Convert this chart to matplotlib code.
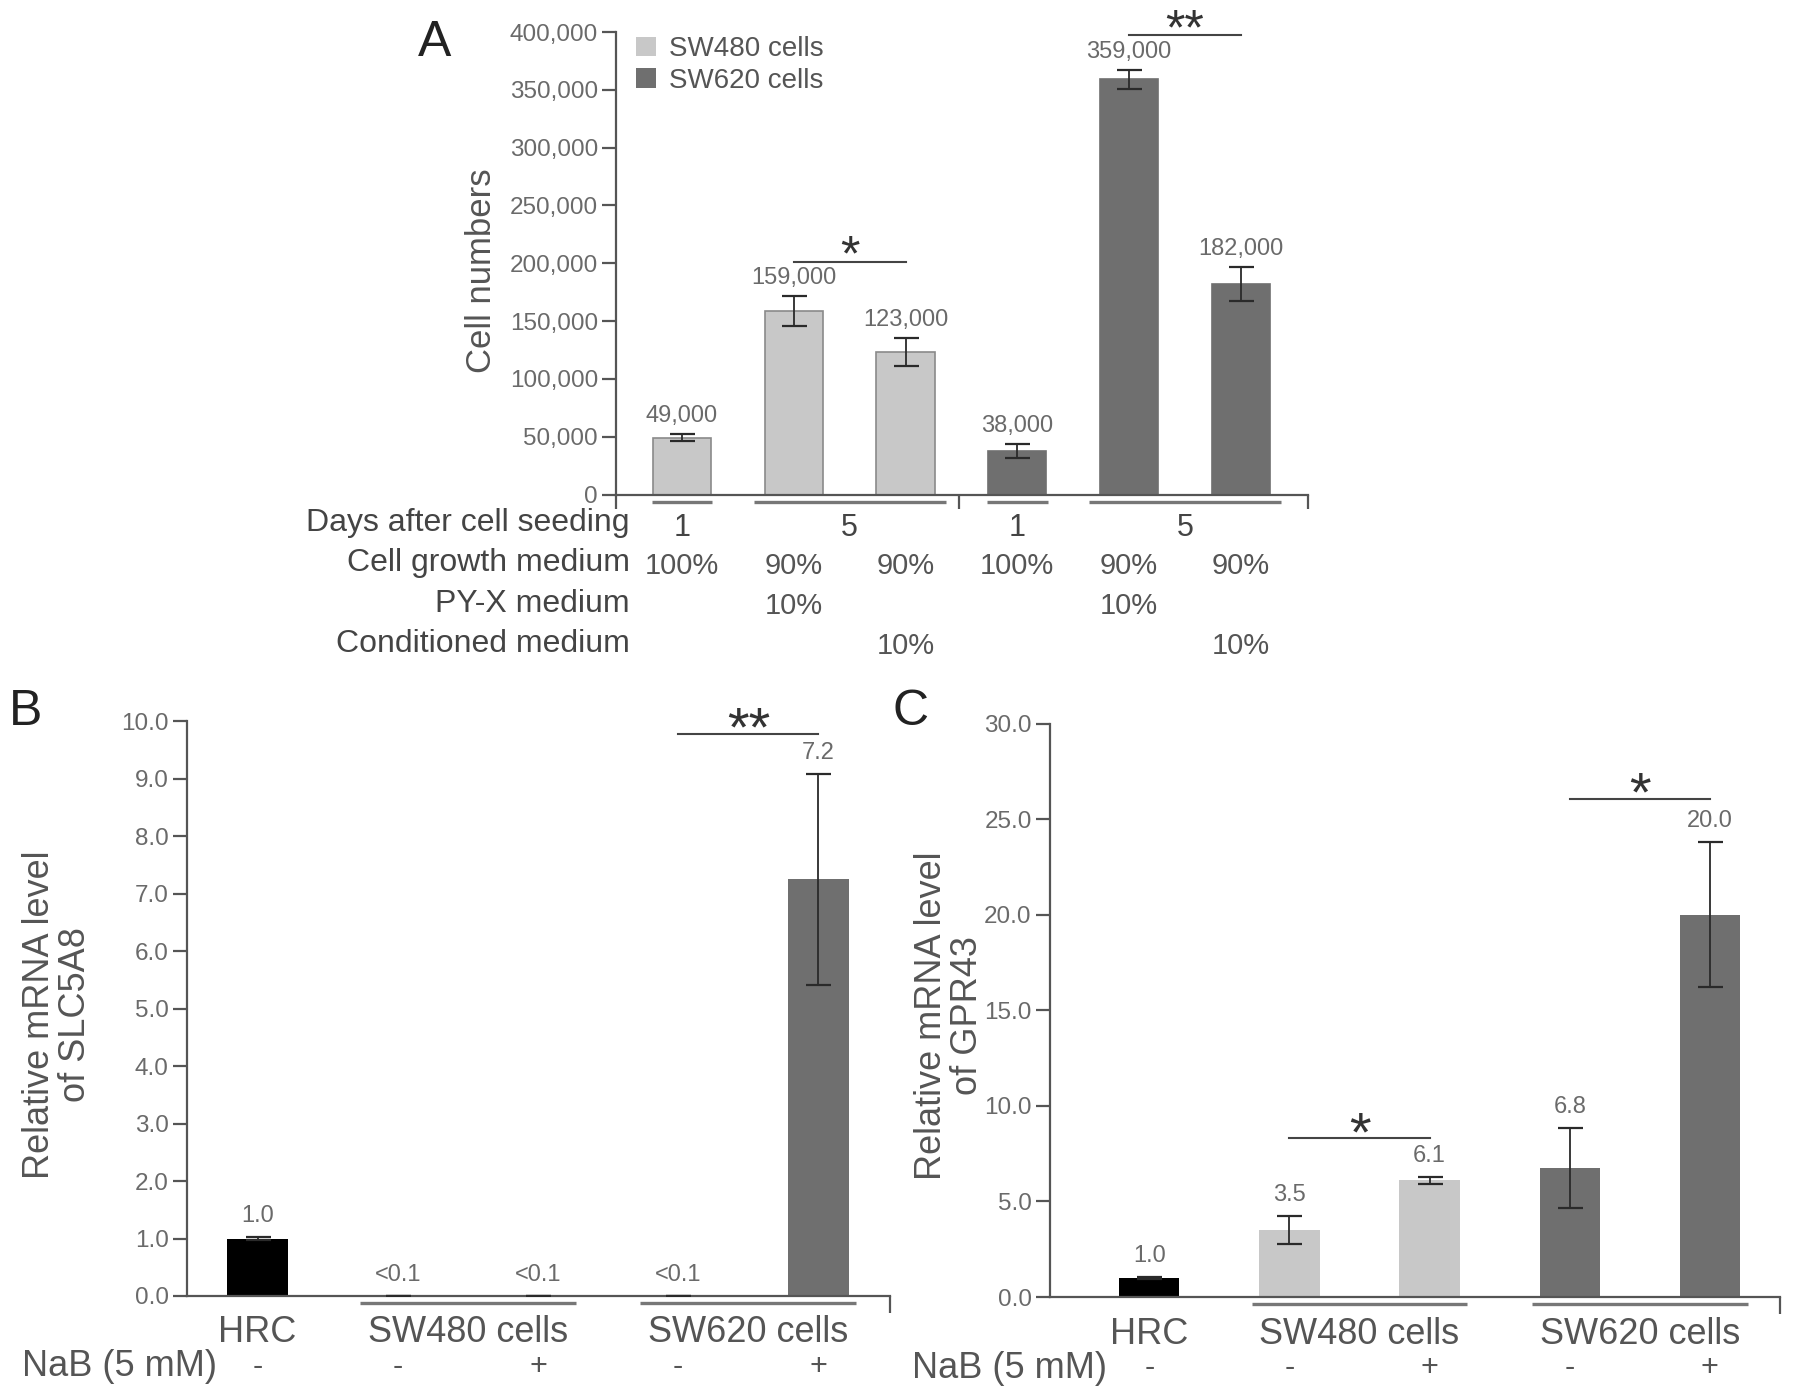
"""Cell growth and mRNA level panels (A, B, C)."""

import matplotlib
matplotlib.use("Agg")
import matplotlib.pyplot as plt
from matplotlib.patches import Patch

plt.rcParams["font.family"] = ["Liberation Sans", "DejaVu Sans"]

W, H = 1795, 1396

LIGHT = "#c8c8c8"
DARK = "#6f6f6f"
BLACK = "#000000"
AXIS = "#555555"
TICKTXT = "#6a6a6a"
LABTXT = "#555555"
CELL_COLORS = {"HRC": BLACK, "SW480 cells": LIGHT, "SW620 cells": DARK}

# ---- panel A data
a_cells = ["SW480 cells"] * 3 + ["SW620 cells"] * 3
a_values = [49000, 159000, 123000, 38000, 359000, 182000]
a_err = [3000, 13000, 12000, 6000, 8000, 14500]
a_days = ["1", "5", "1", "5"]
a_day_bars = [[0], [1, 2], [3], [4, 5]]
a_growth = ["100%", "90%", "90%", "100%", "90%", "90%"]
a_pyx = ["", "10%", "", "", "10%", ""]
a_cond = ["", "", "10%", "", "", "10%"]
a_rows = ["Days after cell seeding", "Cell growth medium",
          "PY-X medium", "Conditioned medium"]
a_yticks = [0, 50000, 100000, 150000, 200000, 250000, 300000, 350000, 400000]
a_sig = [(1, 2, 201000, "*"), (4, 5, 397000, "**")]

# ---- panels B and C data
bc_groups = ["HRC", "SW480 cells", "SW620 cells"]
bc_group_bars = [[0], [1, 2], [3, 4]]
bc_cells = ["HRC", "SW480 cells", "SW480 cells", "SW620 cells", "SW620 cells"]
bc_nab = ["-", "-", "+", "-", "+"]

b_values = [1.0, 0.005, 0.005, 0.005, 7.25]
b_err = [0.03, 0, 0, 0, 1.84]
b_text = ["1.0", "<0.1", "<0.1", "<0.1", "7.2"]
b_yticks = [0, 1, 2, 3, 4, 5, 6, 7, 8, 9, 10]
b_sig = [(3, 4, 9.78, "**")]

c_values = [1.0, 3.5, 6.1, 6.75, 20.0]
c_err = [0.05, 0.75, 0.2, 2.1, 3.8]
c_text = ["1.0", "3.5", "6.1", "6.8", "20.0"]
c_yticks = [0, 5, 10, 15, 20, 25, 30]
c_sig = [(1, 2, 8.3, "*"), (3, 4, 26.07, "*")]


def px_h(ax):
    return ax.get_position().height * H


def below(ax, x, px, s, size, color, coords="data", ha="center"):
    ax.annotate(s, xy=(x, 0), xycoords=(coords, "axes fraction"),
                xytext=(0, -px * 0.72), textcoords="offset points",
                ha=ha, va="center", fontsize=size, color=color,
                annotation_clip=False)


def underline(ax, x0, x1, px=7):
    y = -px / px_h(ax)
    ax.plot([x0, x1], [y, y], color="#777777", lw=2.4,
            transform=ax.get_xaxis_transform(), clip_on=False,
            solid_capstyle="butt")


def style_axes(ax, xlim, ylim, xticks, tick_len):
    ax.set_xlim(*xlim)
    ax.set_ylim(*ylim)
    for side in ("top", "right"):
        ax.spines[side].set_visible(False)
    for side in ("left", "bottom"):
        ax.spines[side].set_color(AXIS)
        ax.spines[side].set_linewidth(1.6)
    ax.set_xticks(xticks)
    ax.set_xticklabels([""] * len(xticks))
    ax.tick_params(axis="x", length=tick_len, width=1.6, color=AXIS)
    ax.tick_params(axis="y", length=10, width=1.6, color=AXIS, pad=3,
                   labelsize=17.5, labelcolor=TICKTXT)


def bars(ax, values, err, cells, width, edge=False):
    x = list(range(len(values)))
    colors = [CELL_COLORS[c] for c in cells]
    ax.bar(x, values, width=width, color=colors,
           edgecolor=["#8a8a8a" if (edge and c == LIGHT) else c for c in colors],
           linewidth=1.2 if edge else 0, zorder=2)
    ax.errorbar(x, values, yerr=err, fmt="none", ecolor="#2a2a2a",
                elinewidth=1.3, capsize=9, capthick=1.6, zorder=3)


def values_text(ax, values, err, texts, dy):
    for i, (v, e, s) in enumerate(zip(values, err, texts)):
        ax.annotate(s, xy=(i, v + e), xytext=(0, dy), textcoords="offset points",
                    ha="center", va="bottom", fontsize=17, color=TICKTXT)


def sig(ax, items, size, dy):
    for x0, x1, y, s in items:
        ax.plot([x0, x1], [y, y], color="#444444", lw=1.5, zorder=3)
        ax.annotate(s, xy=((x0 + x1) / 2, y), xytext=(0, dy),
                    textcoords="offset points", ha="center", va="baseline",
                    fontsize=size, color="#333333")


def draw_a(fig):
    ax = fig.add_axes([616 / W, 1 - 494.5 / H, 692 / W, 462.5 / H])
    style_axes(ax, (-0.59, 5.6), (0, 400000), [-0.59, 2.48, 5.6], 10)
    ax.set_yticks(a_yticks)
    ax.set_yticklabels([f"{v:,}" for v in a_yticks])
    bars(ax, a_values, a_err, a_cells, 0.52, edge=True)
    values_text(ax, a_values, a_err, [f"{v:,}" for v in a_values], 5)
    sig(ax, a_sig, 36, -6.2)

    ax.set_ylabel("Cell numbers", fontsize=25, color=LABTXT, va="center")
    ax.yaxis.set_label_coords(-0.195, 0.483)

    ax.legend(handles=[Patch(facecolor=LIGHT, label="SW480 cells"),
                       Patch(facecolor=DARK, label="SW620 cells")],
              loc="upper left", bbox_to_anchor=(-0.007, 1.045), frameon=False,
              fontsize=20, labelcolor=LABTXT, handlelength=0.7,
              handleheight=0.7, handletextpad=0.5, labelspacing=0.2)

    for day, idx in zip(a_days, a_day_bars):
        if len(idx) == 1:
            underline(ax, idx[0] - 0.27, idx[0] + 0.27)
        else:
            underline(ax, idx[0] - 0.36, idx[-1] + 0.36)
        below(ax, sum(idx) / len(idx), 33, day, 22, "#444444")

    for row_px, row in zip([72, 112, 151], [a_growth, a_pyx, a_cond]):
        for i, s in enumerate(row):
            if s:
                below(ax, i, row_px, s, 21, "#555555")

    for row_px, label in zip([29, 69, 110, 150], a_rows):
        below(ax, 0.02, row_px, label, 23, "#444444", coords="axes fraction",
              ha="right")


def draw_bc(fig, rect, xlim, ylim, yticks, values, err, texts, sigs, sig_dy,
            ylabel, label_x, letter_pos, letter, nab_x):
    ax = fig.add_axes(rect)
    style_axes(ax, xlim, ylim, [xlim[1]], 12)
    ax.set_yticks(yticks)
    ax.set_yticklabels([f"{v:.1f}" for v in yticks])
    bars(ax, values, err, bc_cells, 0.43)
    values_text(ax, values, err, texts, 7)
    sig(ax, sigs, 40, sig_dy)

    ax.set_ylabel(ylabel, fontsize=26, color=LABTXT, va="center",
                  linespacing=1.05)
    ax.yaxis.set_label_coords(label_x, 0.49)

    for g, idx in zip(bc_groups, bc_group_bars):
        if len(idx) > 1:
            underline(ax, idx[0] - 0.27, idx[-1] + 0.27)
        below(ax, sum(idx) / len(idx), 37, g, 26, "#555555")
    for i, s in enumerate(bc_nab):
        below(ax, i, 71, s, 22, "#555555")
    y_nab = (1 - rect[1]) * H + 71
    fig.text(nab_x / W, 1 - y_nab / H, "NaB (5 mM)", fontsize=26,
             color="#555555", ha="left", va="center")
    fig.text(letter_pos[0] / W, 1 - letter_pos[1] / H, letter, fontsize=36,
             color="#222222", ha="center", va="center")


def main():
    fig = plt.figure(figsize=(W / 100, H / 100), dpi=100)

    draw_a(fig)
    fig.text(435 / W, 1 - 43 / H, "A", fontsize=36, color="#222222",
             ha="center", va="center")

    draw_bc(fig, [186.6 / W, 1 - 1296 / H, 702.9 / W, 574.8 / H],
            (-0.506, 4.507), (0, 10), b_yticks, b_values, b_err, b_text,
            b_sig, -8.7, "Relative mRNA level\nof SLC5A8", -0.184,
            (26, 712), "B", 22)
    draw_bc(fig, [1049.8 / W, 1 - 1297 / H, 730.2 / W, 573.5 / H],
            (-0.71, 4.5), (0, 30), c_yticks, c_values, c_err, c_text,
            c_sig, -8.5, "Relative mRNA level\nof GPR43", -0.137,
            (911, 712), "C", 912)

    fig.savefig("out.png", dpi=100)
    plt.close(fig)


if __name__ == "__main__":
    main()
